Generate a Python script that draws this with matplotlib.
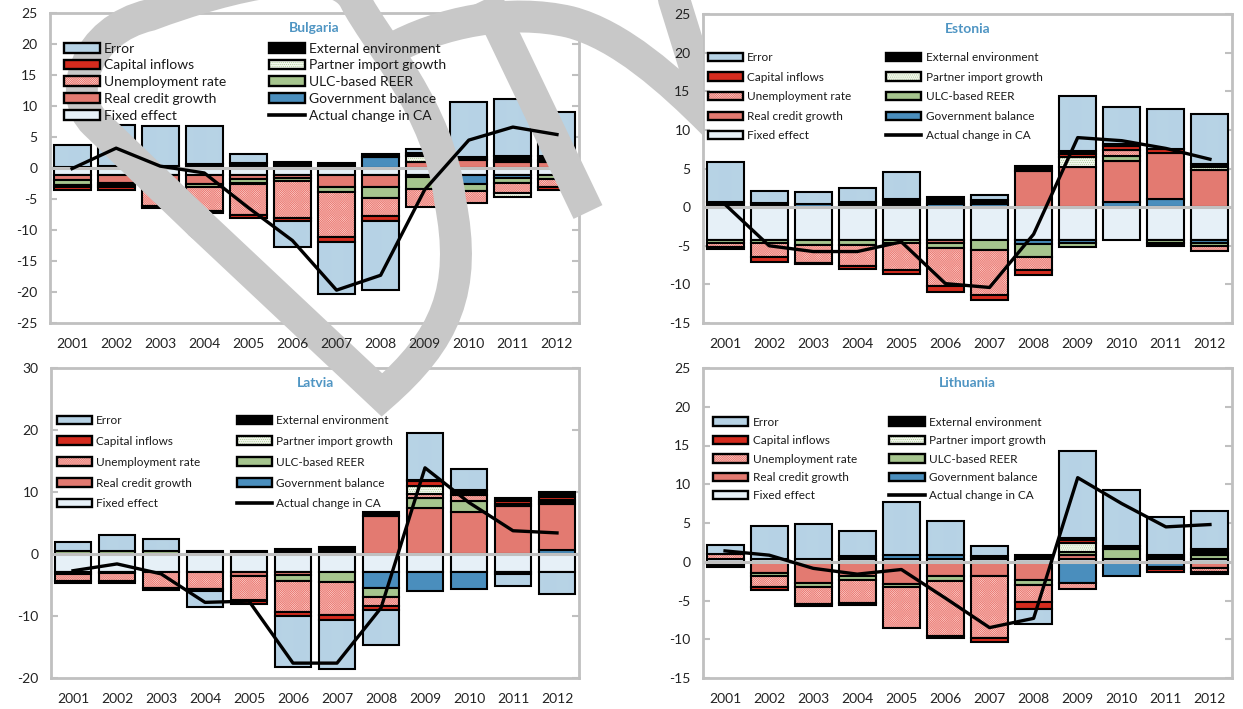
import numpy as np
import matplotlib
matplotlib.use("Agg")
import matplotlib.pyplot as plt
from matplotlib.patches import Patch, PathPatch, Rectangle
from matplotlib.lines import Line2D
from matplotlib.legend import Legend
from matplotlib.legend_handler import HandlerTuple
from matplotlib.path import Path
from matplotlib.transforms import Affine2D

plt.rcParams["font.family"] = ["Lato", "DejaVu Sans"]
plt.rcParams["hatch.linewidth"] = 0.35

years = ["2001", "2002", "2003", "2004", "2005", "2006",
         "2007", "2008", "2009", "2010", "2011", "2012"]

# Bulgaria, contributions in % of GDP
bg_fixed = [-1.1, -1.1, -1.1, -1.1, -1.1, -1.1, -1.1, -1.1, -1.1, -1.1, -1.1, -1.1]
bg_gov = [0, 0, 0, 0, 0, 0, 0, 1.7, -0.3, -1.5, -0.5, 0]
bg_credit = [-0.8, -1.3, -1.7, -1.5, -0.6, -0.5, -2.0, -2.0, 0.9, 1.3, 1.0, 1.0]
bg_ulc = [-0.8, -0.4, -0.4, -0.5, -0.8, -0.5, -0.7, -1.7, -2.0, -1.1, -0.8, -0.6]
bg_unemp = [-0.4, -0.3, -2.9, -3.8, -5.1, -6.0, -7.3, -2.9, -2.9, -1.9, -1.7, -1.3]
bg_partner = [0, 0, 0, 0, 0, 0, 0, 0, 1.0, 0.2, -0.5, 0.3]
bg_capital = [-0.4, -0.4, -0.3, -0.3, -0.4, -0.5, -0.8, -0.9, 0.2, 0, 0.3, -0.5]
bg_external = [0.2, 0.4, 0.3, 0.6, 0.8, 1.0, 0.8, 0.5, 0.3, 0.3, 0.6, 0.6]
bg_error = [3.5, 6.6, 6.4, 6.2, 1.4, -4.2, -8.4, -11.0, 0.7, 8.8, 9.3, 7.2]
bg_ca = [-0.1, 3.2, 0.3, -0.8, -6.4, -11.7, -19.7, -17.3, -3.5, 4.5, 6.6, 5.4]

# Estonia
ee_fixed = [-4.3, -4.3, -4.3, -4.3, -4.3, -4.3, -4.3, -4.3, -4.3, -4.3, -4.3, -4.3]
ee_gov = [0, 0, 0.4, 0, 0, 0.4, 0.4, -0.5, -0.3, 0.6, 1.0, -0.4]
ee_credit = [0, 0, 0, 0, 0, -0.4, 0, 4.7, 5.2, 5.4, 6.0, 4.8]
ee_ulc = [-0.4, -0.3, -0.6, -0.6, -0.3, -0.6, -1.3, -1.7, -0.6, 0.6, -0.3, -0.3]
ee_unemp = [-0.5, -1.9, -2.3, -2.7, -3.5, -4.9, -5.8, -1.7, 0, 0.8, 0, -0.7]
ee_partner = [0, 0, 0, 0, 0, 0, 0, 0, 1.3, 0, 0, 0.4]
ee_capital = [-0.2, -0.6, -0.2, -0.4, -0.6, -0.8, -0.6, -0.6, 0.4, 0.5, 0.5, 0]
ee_external = [0.6, 0.5, 0, 0.6, 1.0, 0.9, 0.5, 0.6, 0.4, 0.3, -0.4, 0.4]
ee_error = [5.2, 1.6, 1.5, 1.9, 3.6, 0, 0.7, 0, 7.1, 4.8, 5.2, 6.5]
ee_ca = [0.35, -5.0, -5.75, -5.75, -4.5, -9.9, -10.4, -3.5, 9.0, 8.6, 7.6, 6.2]

# Latvia
lv_fixed = [-2.9, -2.9, -2.9, -2.9, -2.9, -2.9, -2.9, -2.9, -2.9, -2.9, -2.9, -2.9]
lv_gov = [0, 0, 0, 0, 0, 0, 0, -2.6, -3.1, -2.7, 0, 0.7]
lv_credit = [-0.4, -0.2, 0, 0, -0.7, -0.5, 0, 6.2, 7.4, 6.8, 7.7, 7.3]
lv_ulc = [0.5, 0.5, 0.5, 0, 0, -0.9, -1.6, -1.5, 1.6, 1.8, -0.3, 0.4]
lv_unemp = [-1.0, -1.2, -2.6, -2.7, -3.9, -5.1, -5.3, -1.4, 0.6, 0.9, 0, 0]
lv_partner = [0, 0, 0, 0, 0, 0, 0, 0, 1.3, 0, 0.3, 0.3]
lv_capital = [-0.4, -0.4, -0.3, -0.4, -0.6, -0.6, -0.8, -0.6, 0.8, 0, 0.6, 0.5]
lv_external = [0, 0, 0, 0.5, 0.5, 0.8, 1.2, 0.6, 0.3, 0.8, 0.4, 0.8]
lv_error = [1.4, 2.5, 2.0, -2.6, 0, -8.2, -8.0, -5.6, 7.5, 3.4, -2.0, -3.5]
lv_ca = [-2.7, -1.6, -3.2, -7.8, -7.6, -17.6, -17.6, -8.7, 13.9, 8.3, 3.75, 3.4]

# Lithuania
lt_fixed = [0.4, 0.4, 0.4, 0.4, 0.4, 0.4, 0.4, 0.4, 0.4, 0.4, 0.4, 0.4]
lt_gov = [0, 0, 0, 0, 0.5, 0.5, 0, 0, -2.7, -1.9, -0.7, 0]
lt_credit = [0, -1.5, -2.8, -1.9, -2.9, -1.9, -1.9, -2.4, 0.5, 0, -0.2, -0.8]
lt_ulc = [0, -0.3, -0.4, -0.4, -0.4, -0.6, 0, -0.6, 0.4, 1.2, 0.2, 0.5]
lt_unemp = [0.6, -1.5, -2.3, -3.0, -5.3, -7.1, -8.0, -2.2, -0.8, 0, 0, -0.5]
lt_partner = [0, 0, 0, 0, 0, 0, 0, 0, 1.1, 0, 0, 0.2]
lt_capital = [-0.3, -0.4, -0.2, -0.3, 0, -0.3, -0.5, -0.9, 0.4, 0, -0.4, -0.3]
lt_external = [-0.4, 0, 0, 0.3, 0, 0, 0.3, 0.5, 0.3, 0.4, 0.3, 0.6]
lt_error = [1.2, 4.2, 4.5, 3.3, 6.8, 4.4, 1.3, -1.9, 11.2, 7.3, 4.9, 4.9]
lt_ca = [1.4, 0.85, -0.85, -1.6, -1.0, -4.7, -8.5, -7.3, 10.85, 7.5, 4.5, 4.8]

# stacking order away from zero: key, legend label, fill, hatch, hatch colour
components = [
    ("fixed", "Fixed effect", "#e6f0f7", None, None),
    ("gov", "Government balance", "#4a8ebd", None, None),
    ("credit", "Real credit growth", "#e37a71", None, None),
    ("ulc", "ULC-based REER", "#a6c58e", None, None),
    ("unemp", "Unemployment rate", "#fde9e6", "x" * 18, "#ec7d76"),
    ("partner", "Partner import growth", "#f2f7ec", "." * 8, "#9fc487"),
    ("capital", "Capital inflows", "#d52b1e", None, None),
    ("external", "External environment", "#000000", None, None),
    ("error", "Error", "#c4dcec", "|" * 16, "#a9c8de"),
]
col_left = ["error", "capital", "unemp", "credit", "fixed"]
col_right = ["external", "partner", "ulc", "gov", "ca"]

panels = [
    dict(name="Bulgaria", box=(50, 13, 579, 323), ylim=(-25, 25), step=5, ca=bg_ca,
         data=dict(fixed=bg_fixed, gov=bg_gov, credit=bg_credit, ulc=bg_ulc, unemp=bg_unemp,
                   partner=bg_partner, capital=bg_capital, external=bg_external, error=bg_error),
         leg=dict(fs=10, spacing=0.34, hlen=2.6, pad=0.3, x=(0.026, 0.414), y=0.904)),
    dict(name="Estonia", box=(703, 14, 1232, 323), ylim=(-15, 25), step=5, ca=ee_ca,
         data=dict(fixed=ee_fixed, gov=ee_gov, credit=ee_credit, ulc=ee_ulc, unemp=ee_unemp,
                   partner=ee_partner, capital=ee_capital, external=ee_external, error=ee_error),
         leg=dict(fs=8.5, spacing=0.73, hlen=3.0, pad=0.35, x=(0.009, 0.346), y=0.877)),
    dict(name="Latvia", box=(51, 368, 579, 678), ylim=(-20, 30), step=10, ca=lv_ca,
         data=dict(fixed=lv_fixed, gov=lv_gov, credit=lv_credit, ulc=lv_ulc, unemp=lv_unemp,
                   partner=lv_partner, capital=lv_capital, external=lv_external, error=lv_error),
         leg=dict(fs=8.5, spacing=0.84, hlen=3.0, pad=0.35, x=(0.011, 0.352), y=0.849)),
    dict(name="Lithuania", box=(703, 368, 1232, 678), ylim=(-15, 25), step=5, ca=lt_ca,
         data=dict(fixed=lt_fixed, gov=lt_gov, credit=lt_credit, ulc=lt_ulc, unemp=lt_unemp,
                   partner=lt_partner, capital=lt_capital, external=lt_external, error=lt_error),
         leg=dict(fs=8.5, spacing=0.63, hlen=3.0, pad=0.35, x=(0.019, 0.352), y=0.843)),
]

W, H = 1243, 709
GRID = "#c0c0c0"
fig = plt.figure(figsize=(W / 100, H / 100), dpi=100)


def fig_rect(left, top, right, bottom):
    return [left / W, 1 - bottom / H, (right - left) / W, (bottom - top) / H]


# legend handles, hatched ones get a separate black outline laid on top
handles = {}
labels = {}
for key, label, face, hatch, hcol in components:
    if hatch:
        handles[key] = (Patch(facecolor=face, edgecolor=hcol, hatch=hatch, linewidth=0),
                        Patch(facecolor="none", edgecolor="black", linewidth=1.7))
    else:
        handles[key] = Patch(facecolor=face, edgecolor="black", linewidth=1.7)
    labels[key] = label
handles["ca"] = Line2D([], [], color="black", linewidth=2.6)
labels["ca"] = "Actual change in CA"

x = np.arange(len(years))
for p in panels:
    ax = fig.add_axes(fig_rect(*p["box"]), zorder=0)
    top = fig.add_axes(fig_rect(*p["box"]), zorder=2)

    pos = np.zeros(len(years))
    neg = np.zeros(len(years))
    for key, label, face, hatch, hcol in components:
        v = np.array(p["data"][key], dtype=float)
        base = np.where(v > 0, pos, neg)
        m = v != 0
        if hatch:
            ax.bar(x[m], v[m], 0.84, bottom=base[m], facecolor=face, edgecolor=hcol,
                   hatch=hatch, linewidth=0, zorder=2)
            ax.bar(x[m], v[m], 0.84, bottom=base[m], facecolor="none",
                   edgecolor="black", linewidth=1.5, zorder=2)
        else:
            ax.bar(x[m], v[m], 0.84, bottom=base[m], facecolor=face,
                   edgecolor="black", linewidth=1.5, zorder=2)
        pos += np.where(v > 0, v, 0)
        neg += np.where(v < 0, v, 0)

    ax.axhline(0, color=GRID, linewidth=2.2, zorder=3)
    ticks = np.arange(p["ylim"][0], p["ylim"][1] + 1, p["step"])
    for a in (ax, top):
        a.set_xlim(-0.5, 11.5)
        a.set_ylim(*p["ylim"])
    ax.set_xticks([])
    ax.set_yticks(ticks)
    ax.tick_params(axis="y", left=True, right=True, direction="in", length=5,
                   width=1.5, color=GRID, labelleft=False)
    for s in ax.spines.values():
        s.set_color(GRID)
        s.set_linewidth(2)

    # labels, CA line and legend sit above the grey strokes
    top.patch.set_visible(False)
    for s in top.spines.values():
        s.set_visible(False)
    top.set_xticks(x, years)
    top.set_yticks(ticks, [str(t) for t in ticks])
    top.tick_params(axis="both", length=0, labelsize=10, labelcolor="#222222")
    top.tick_params(axis="x", pad=11)
    top.tick_params(axis="y", pad=9)
    top.plot(x, p["ca"], color="black", linewidth=2.4, zorder=3)
    top.text(0.5, 0.953, p["name"], transform=top.transAxes, ha="center", va="center",
             fontsize=10, fontweight="bold", color="#4f95c3")

    lg = p["leg"]
    for keys, lx in zip((col_left, col_right), lg["x"]):
        leg = Legend(top, [handles[k] for k in keys], [labels[k] for k in keys],
                     loc="upper left", bbox_to_anchor=(lx, lg["y"]), frameon=False,
                     borderpad=0, borderaxespad=0, fontsize=lg["fs"],
                     labelspacing=lg["spacing"], handlelength=lg["hlen"],
                     handleheight=0.7, handletextpad=lg["pad"],
                     handler_map={tuple: HandlerTuple(ndivide=1, pad=0)})
        for t in leg.get_texts():
            t.set_color("#1a1a1a")
        top.add_artist(leg)

# grey strokes across the left half, pixel coordinates from the top-left corner
px = Affine2D().scale(1 / W, -1 / H).translate(0, 1) + fig.transFigure
grey = "#c8c8c8"
C4 = Path.CURVE4
loop = Path([(200, 224), (95, 123),
             (66, 95), (85, 30), (150, 15),
             (230, -15), (335, -40), (355, 0),
             (375, 40), (440, 110), (450, 200),
             (468, 290), (445, 340), (382, 395),
             (200, 224)],
            [Path.MOVETO, Path.LINETO] + [C4] * 12 + [Path.LINETO])
fig.add_artist(PathPatch(loop, transform=px, facecolor="none", edgecolor=grey,
                         linewidth=23, joinstyle="miter", capstyle="round", zorder=1))
fig.add_artist(PathPatch(Path([(477, -20), (588, 212)]), transform=px, facecolor="none",
                         edgecolor=grey, linewidth=23, capstyle="butt", zorder=1))
hook = PathPatch(Path([(390, 50), (440, 22), (510, 8), (570, 22),
                       (620, 35), (670, 80), (712, 122), (668, -20)],
                      [Path.MOVETO, C4, C4, C4, C4, C4, C4, Path.LINETO]),
                 transform=px, facecolor="none", edgecolor=grey, linewidth=23,
                 joinstyle="miter", capstyle="round", zorder=1)
fig.add_artist(hook)
hook.set_clip_path(Rectangle((0, -50), 703, 800, transform=px))

fig.savefig("out.png", dpi=100)
plt.close(fig)
